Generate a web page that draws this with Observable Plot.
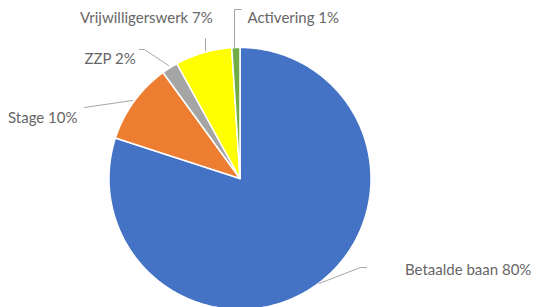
<!DOCTYPE html>
<html>
<head>
<meta charset="utf-8">
<script src="https://cdn.jsdelivr.net/npm/d3@7"></script>
<script src="https://cdn.jsdelivr.net/npm/@observablehq/plot@0.6"></script>
<style>
  html, body { margin: 0; padding: 0; background: #fff; }
  #chart svg { display: block; }
</style>
</head>
<body>
<div id="chart"></div>
<script>
// ---- data ----
const categories = ["Betaalde baan", "Stage", "ZZP", "Vrijwilligerswerk", "Activering"];
const values = [80, 10, 2, 7, 1];
const labels = ["Betaalde baan 80%", "Stage 10%", "ZZP 2%", "Vrijwilligerswerk 7%", "Activering 1%"];
const colors = ["#4472C4", "#ED7D31", "#A5A5A5", "#FFFF00", "#70AD47"];

// ---- layout (pixels relative to pie centre, y up) ----
const W = 537, H = 307;
const CX = 239.5, CY = 178, R = 131;
const labelAnchors = [[165, -92], [-232, 60], [-155.5, 119], [-160, 160], [7.5, 160]];
const leaders = [
  [[126.5, -89], [120.5, -89], [79, -105]],
  [[-155.5, 71], [-107.5, 78]],
  [[-100.5, 129], [-95.5, 129], [-71.5, 113]],
  [[-34.5, 140], [-34.5, 128]],
  [[1.5, 169], [-5.5, 169], [-5.5, 131]]
];

// slices from d3.pie
const data = categories.map((c, i) => ({cat: c, value: values[i]}));
const arcs = d3.pie().sort(null).value(d => d.value)(data);
const slicePts = [];
for (const a of arcs) {
  const n = Math.max(2, Math.ceil((a.endAngle - a.startAngle) / (Math.PI / 360)));
  slicePts.push({cat: a.data.cat, x: 0, y: 0});
  for (let k = 0; k <= n; k++) {
    const t = a.startAngle + (a.endAngle - a.startAngle) * k / n;
    slicePts.push({cat: a.data.cat, x: R * Math.sin(t), y: R * Math.cos(t)});
  }
  slicePts.push({cat: a.data.cat, x: 0, y: 0});
}

const labelData = labels.map((t, i) => ({text: t, x: labelAnchors[i][0], y: labelAnchors[i][1]}));
const leaderPts = leaders.flatMap((pts, i) => pts.map(p => ({id: i, x: p[0], y: p[1]})));

const chart = Plot.plot({
  width: W,
  height: H,
  margin: 0,
  x: {domain: [-CX, W - CX], axis: null},
  y: {domain: [-(H - CY), CY], axis: null},
  color: {domain: categories, range: colors},
  style: {background: "#fff"},
  marks: [
    Plot.line(slicePts, {x: "x", y: "y", z: "cat", fill: "cat", stroke: "#fff", strokeWidth: 1.5, strokeLinejoin: "round", curve: "linear"}),
    Plot.line(leaderPts, {x: "x", y: "y", z: "id", stroke: "#a6a6a6", strokeWidth: 1}),
    Plot.text(labelData, {x: "x", y: "y", text: "text", textAnchor: "start", fontSize: 15, fill: "#666", fontFamily: "Lato, 'Open Sans', sans-serif"})
  ]
});
document.getElementById("chart").appendChild(chart);
</script>
</body>
</html>
